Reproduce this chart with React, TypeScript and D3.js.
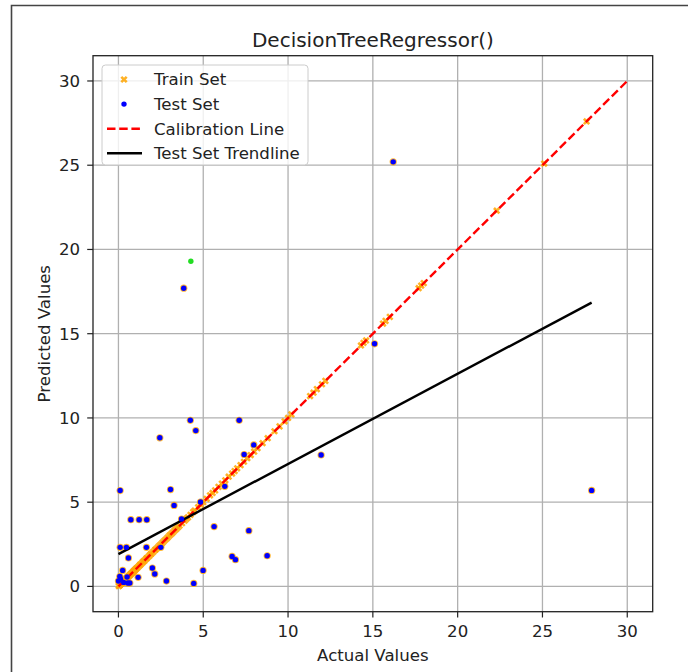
import * as d3 from 'd3';
import { useMemo } from 'react';

// train set: [actual, predicted] (tree fits train almost perfectly -> on the diagonal)
const trainPoints: [number, number][] = [
  [0.02, 0.02], [0.05, 0.06], [0.08, 0.08], [0.1, 0.1], [0.12, 0.13], [0.15, 0.15],
  [0.18, 0.18], [0.2, 0.21], [0.24, 0.24], [0.28, 0.28], [0.3, 0.31], [0.35, 0.35],
  [0.4, 0.4], [0.45, 0.46], [0.5, 0.5], [0.55, 0.55], [0.6, 0.61], [0.66, 0.66],
  [0.7, 0.7], [0.75, 0.76], [0.8, 0.8], [0.86, 0.86], [0.9, 0.91], [0.95, 0.95],
  [1.0, 1.0], [1.05, 1.06], [1.1, 1.1], [1.18, 1.18], [1.25, 1.26], [1.3, 1.3],
  [1.38, 1.38], [1.45, 1.46], [1.5, 1.5], [1.58, 1.58], [1.65, 1.66], [1.7, 1.7],
  [1.8, 1.8], [1.88, 1.89], [1.95, 1.95], [2.05, 2.05], [2.15, 2.16], [2.2, 2.2],
  [2.3, 2.3], [2.4, 2.41], [2.5, 2.5], [2.6, 2.6], [2.7, 2.71], [2.8, 2.8],
  [2.9, 2.9], [3.0, 3.01], [3.1, 3.1], [3.2, 3.2], [3.3, 3.31], [3.4, 3.4],
  [3.5, 3.5], [3.6, 3.61], [3.75, 3.75], [3.9, 3.9], [4.0, 4.01], [4.1, 4.1],
  [4.25, 4.25], [4.4, 4.41], [4.5, 4.5], [4.7, 4.7], [4.85, 4.86], [5.0, 5.0],
  [5.2, 5.2], [5.4, 5.41], [5.55, 5.55], [5.7, 5.7], [5.9, 5.91], [6.1, 6.1],
  [6.3, 6.3], [6.5, 6.51], [6.7, 6.7], [6.85, 6.85], [7.0, 7.01], [7.2, 7.2],
  [7.4, 7.4], [7.6, 7.61], [7.8, 7.8], [8.0, 8.0], [8.2, 8.21], [8.5, 8.5],
  [8.8, 8.8], [9.2, 9.21], [9.5, 9.5], [9.8, 9.8], [10.0, 10.0], [10.2, 10.21],
  [11.3, 11.3], [11.5, 11.5], [11.7, 11.71], [12.0, 12.0], [12.2, 12.2],
  [14.3, 14.3], [14.45, 14.46], [14.6, 14.6], [15.6, 15.6], [15.75, 15.76],
  [16.0, 16.0], [17.7, 17.7], [17.85, 17.86], [18.0, 18.0], [22.3, 22.3],
  [25.1, 25.1], [27.6, 27.6],
];

// test set: [actual, predicted]
const testPoints: [number, number][] = [
  [16.2, 25.2], [27.9, 5.7], [3.85, 17.7], [15.1, 14.4], [11.95, 7.8],
  [4.24, 9.86], [7.12, 9.86], [4.56, 9.25], [2.44, 8.82], [7.98, 8.4],
  [7.41, 7.83], [0.1, 5.69], [3.07, 5.75], [6.27, 5.94], [3.28, 4.81],
  [4.84, 5.01], [0.73, 3.96], [1.22, 3.96], [1.67, 3.96], [3.72, 4.0],
  [5.64, 3.55], [7.69, 3.31], [8.77, 1.82], [6.7, 1.78], [6.9, 1.59],
  [0.1, 2.32], [0.47, 2.32], [1.65, 2.32], [2.5, 2.32], [0.59, 1.69],
  [2.0, 1.09], [2.14, 0.74], [0.25, 0.95], [0.51, 0.56], [1.16, 0.54],
  [2.83, 0.32], [4.44, 0.18], [4.99, 0.95], [0.0, 0.32], [0.12, 0.44],
  [0.31, 0.24], [0.55, 0.2], [0.67, 0.2], [0.08, 0.59],
];

const highlightPoints: [number, number][] = [[4.27, 19.3]];

const calibration: [number, number][] = [[0, 0], [30, 30]];
const trendIntercept = 1.92;
const trendSlope = 0.535;
const trendRange = [0, 27.9];

const ticks = [0, 5, 10, 15, 20, 25, 30];
const legendLabels = ['Train Set', 'Test Set', 'Calibration Line', 'Test Set Trendline'];

const W = 688;
const H = 672;
const FONT = '"DejaVu Sans", sans-serif';

export default function App() {
  const x = useMemo(() => d3.scaleLinear().domain([-1.5, 31.5]).range([93, 652.7]), []);
  const y = useMemo(() => d3.scaleLinear().domain([-1.5, 31.5]).range([611.7, 55.7]), []);

  const line = d3
    .line<[number, number]>()
    .x((d) => x(d[0]))
    .y((d) => y(d[1]));

  const trend: [number, number][] = trendRange.map((v) => [v, trendIntercept + trendSlope * v]);

  const [x0, x1] = x.range();
  const [y0, y1] = y.range();

  const xMark = (cx: number, cy: number, s = 2.7) =>
    `M${cx - s},${cy - s}L${cx + s},${cy + s}M${cx - s},${cy + s}L${cx + s},${cy - s}`;

  return (
    <svg
      width={W}
      height={H}
      style={{ position: 'absolute', left: 0, top: 0, background: '#fff' }}
      fontFamily={FONT}
    >
      <rect width={W} height={H} fill='#fff' />
      {/* notebook frame */}
      <path d={`M11.5,${H}V5.5H${W}`} fill='none' stroke='#444' strokeWidth={1.6} />

      {/* grid */}
      {ticks.map((t) => (
        <g key={'g' + t}>
          <line x1={x(t)} x2={x(t)} y1={y1} y2={y0} stroke='#b0b0b0' strokeWidth={1.3} />
          <line x1={x0} x2={x1} y1={y(t)} y2={y(t)} stroke='#b0b0b0' strokeWidth={1.3} />
        </g>
      ))}

      {/* train */}
      {trainPoints.map((d, i) => (
        <path
          key={'tr' + i}
          d={xMark(x(d[0]), y(d[1]))}
          stroke='orange'
          strokeWidth={2.6}
          opacity={0.85}
        />
      ))}
      {testPoints.map((d, i) => (
        <circle key={'tro' + i} cx={x(d[0])} cy={y(d[1])} r={3.6} fill='orange' opacity={0.8} />
      ))}

      {/* calibration */}
      <path
        d={line(calibration) ?? ''}
        fill='none'
        stroke='red'
        strokeWidth={2.4}
        strokeDasharray='8.5 3.7'
      />
      {/* trendline */}
      <path d={line(trend) ?? ''} fill='none' stroke='black' strokeWidth={2.4} />

      {/* test */}
      {testPoints.map((d, i) => (
        <circle key={'te' + i} cx={x(d[0])} cy={y(d[1])} r={2.7} fill='blue' />
      ))}
      {highlightPoints.map((d, i) => (
        <circle key={'hl' + i} cx={x(d[0])} cy={y(d[1])} r={2.7} fill='#22dd22' />
      ))}

      {/* axes frame */}
      <rect x={x0} y={y1} width={x1 - x0} height={y0 - y1} fill='none' stroke='#222' strokeWidth={1.3} />

      {/* ticks */}
      {ticks.map((t) => (
        <g key={'xt' + t}>
          <line x1={x(t)} x2={x(t)} y1={y0} y2={y0 + 5.8} stroke='#222' strokeWidth={1.2} />
          <text x={x(t)} y={637} textAnchor='middle' fontSize={16.6} fill='#222'>
            {t}
          </text>
        </g>
      ))}
      {ticks.map((t) => (
        <g key={'yt' + t}>
          <line x1={x0 - 5.8} x2={x0} y1={y(t)} y2={y(t)} stroke='#222' strokeWidth={1.2} />
          <text x={80} y={y(t)} dy='0.36em' textAnchor='end' fontSize={16.6} fill='#222'>
            {t}
          </text>
        </g>
      ))}

      {/* labels */}
      <text x={(x0 + x1) / 2} y={47} textAnchor='middle' fontSize={20} fill='#222'>
        DecisionTreeRegressor()
      </text>
      <text x={(x0 + x1) / 2} y={661} textAnchor='middle' fontSize={16.6} fill='#222'>
        Actual Values
      </text>
      <text
        transform={`translate(44,${(y0 + y1) / 2}) rotate(-90)`}
        textAnchor='middle'
        dy='0.36em'
        fontSize={16.6}
        fill='#222'
      >
        Predicted Values
      </text>

      {/* legend */}
      <g>
        <rect x={102} y={65} width={206} height={100} rx={3.5} fill='#fff' fillOpacity={0.8} stroke='#cccccc' />
        {legendLabels.map((lab, i) => {
          const ly = 79.5 + i * 24.6;
          return (
            <g key={lab}>
              {i === 0 && <path d={xMark(124, ly)} stroke='orange' strokeWidth={2.6} opacity={0.85} />}
              {i === 1 && <circle cx={124} cy={ly} r={2.7} fill='blue' />}
              {i === 2 && (
                <line x1={107} x2={142} y1={ly} y2={ly} stroke='red' strokeWidth={2.4} strokeDasharray='8.5 3.7' />
              )}
              {i === 3 && <line x1={107} x2={142} y1={ly} y2={ly} stroke='black' strokeWidth={2.4} />}
              <text x={154} y={ly} dy='0.36em' fontSize={16.6} fill='#222'>
                {lab}
              </text>
            </g>
          );
        })}
      </g>
    </svg>
  );
}
